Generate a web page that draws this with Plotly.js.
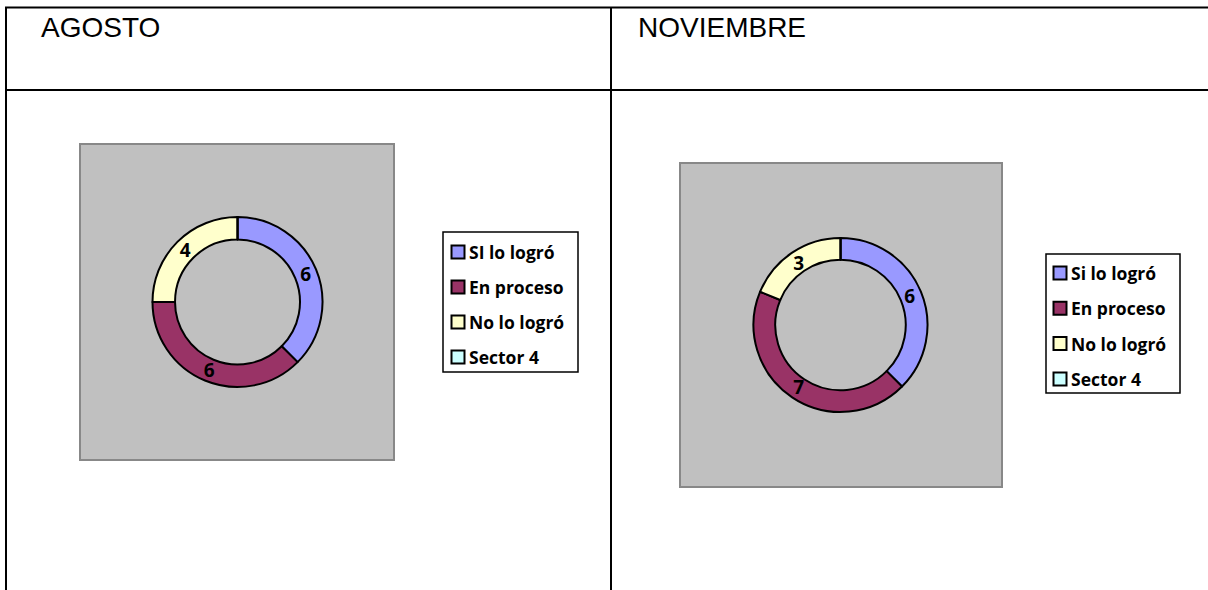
<!DOCTYPE html>
<html>
<head>
<meta charset="utf-8">
<script src="https://cdn.plot.ly/plotly-3.0.1.min.js"></script>
<style>
html,body{margin:0;padding:0;background:#fff;}
#chart{width:1208px;height:590px;}
</style>
</head>
<body>
<div id="chart"></div>
<script>
// ---- data ----
const titles = ['AGOSTO', 'NOVIEMBRE'];
const agostoLabels = ['SI lo logró', 'En proceso', 'No lo logró', 'Sector 4'];
const noviembreLabels = ['Si lo logró', 'En proceso', 'No lo logró', 'Sector 4'];
const agostoValues = [6, 6, 4, 0];
const noviembreValues = [6, 7, 3, 0];
const sliceColors = ['#9999FF', '#993366', '#FFFFCC', '#CCFFFF'];

// ---- helpers (pixel -> paper) ----
const W = 1208, H = 590;
const px = x => x / W;
const py = y => 1 - y / H;

const FONT = '"Open Sans", Lato, sans-serif';

function dom(cx, cy, r) {
  return {x: [px(cx - r), px(cx + r)], y: [py(cy + r), py(cy - r)]};
}

// visible ring
function ring(labels, values, cx, cy, r, hole) {
  return {
    type: 'pie', labels: labels, values: values, hole: hole,
    sort: false, direction: 'clockwise', rotation: 0, showlegend: false,
    marker: {colors: sliceColors, line: {color: '#000000', width: 2}},
    textinfo: 'none', hoverinfo: 'label+value',
    domain: dom(cx, cy, r)
  };
}
// transparent companion ring that carries the value labels at mid-slice
function labelRing(labels, values, cx, cy, rText) {
  const r = rText / 0.75;
  return {
    type: 'pie', labels: labels, values: values, hole: 0.5,
    sort: false, direction: 'clockwise', rotation: 0, showlegend: false,
    marker: {colors: values.map(() => 'rgba(0,0,0,0)'), line: {width: 0}},
    textinfo: 'value',
    texttemplate: values.map(v => v ? '%{value}' : ''),
    textposition: 'inside',
    insidetextorientation: 'horizontal',
    textfont: {family: FONT, size: 19, color: '#000000', weight: 'bold'},
    hoverinfo: 'skip',
    domain: dom(cx, cy, r)
  };
}

const traces = [
  ring(agostoLabels, agostoValues, 237.5, 302, 85, 0.735),
  ring(noviembreLabels, noviembreValues, 840.5, 325, 87, 0.75),
  labelRing(agostoLabels, agostoValues, 237.5, 302, 74),
  labelRing(noviembreLabels, noviembreValues, 840.5, 325, 75)
];

const shapes = [];
const annotations = [];

// table borders
const line = (x0, y0, x1, y1) => shapes.push({type: 'line', xref: 'paper', yref: 'paper',
  x0: px(x0), y0: py(y0), x1: px(x1), y1: py(y1), line: {color: '#000', width: 2}, layer: 'below'});
line(5, 7.5, W, 7.5);
line(5, 90, W, 90);
line(6, 7, 6, H);
line(611, 7, 611, H);

// header titles
[[titles[0], 39], [titles[1], 636]].forEach(([t, x]) => annotations.push({
  text: t, xref: 'paper', yref: 'paper', x: px(x), y: py(27), xanchor: 'left', yanchor: 'middle',
  showarrow: false, font: {family: '"Liberation Sans", Arial, sans-serif', size: 28, color: '#000'}
}));

// gray plot backgrounds
const bg = (x0, y0, x1, y1) => shapes.push({type: 'rect', xref: 'paper', yref: 'paper',
  x0: px(x0), y0: py(y0), x1: px(x1), y1: py(y1), fillcolor: '#C0C0C0',
  line: {color: '#888888', width: 2}, layer: 'below'});
bg(80, 144, 394, 460);
bg(680, 163, 1002, 487);

// legends (built from label arrays)
function legend(labels, bx0, by0, bx1, by1, sqx, tx, y0, dy) {
  shapes.push({type: 'rect', xref: 'paper', yref: 'paper', x0: px(bx0), y0: py(by0), x1: px(bx1), y1: py(by1),
    fillcolor: '#FFFFFF', line: {color: '#000', width: 1.5}, layer: 'below'});
  labels.forEach((lab, i) => {
    const y = y0 + i * dy;
    shapes.push({type: 'rect', xref: 'paper', yref: 'paper',
      x0: px(sqx - 6.5), x1: px(sqx + 6.5), y0: py(y + 6.5), y1: py(y - 6.5),
      fillcolor: sliceColors[i], line: {color: '#000', width: 2}, layer: 'below'});
    annotations.push({text: '<b>' + lab + '</b>', xref: 'paper', yref: 'paper', x: px(tx), y: py(y),
      xanchor: 'left', yanchor: 'middle', showarrow: false,
      font: {family: FONT, size: 17.5, color: '#000'}});
  });
}
legend(agostoLabels, 443, 232, 578, 372, 458, 467, 252, 35);
legend(noviembreLabels, 1046, 254, 1180, 393, 1060, 1069, 273, 35.3);

const layout = {
  width: W, height: H,
  margin: {l: 0, r: 0, t: 0, b: 0},
  paper_bgcolor: '#FFFFFF',
  plot_bgcolor: '#FFFFFF',
  showlegend: false,
  shapes: shapes,
  annotations: annotations
};

Plotly.newPlot('chart', traces, layout, {displayModeBar: false, staticPlot: true});
</script>
</body>
</html>
